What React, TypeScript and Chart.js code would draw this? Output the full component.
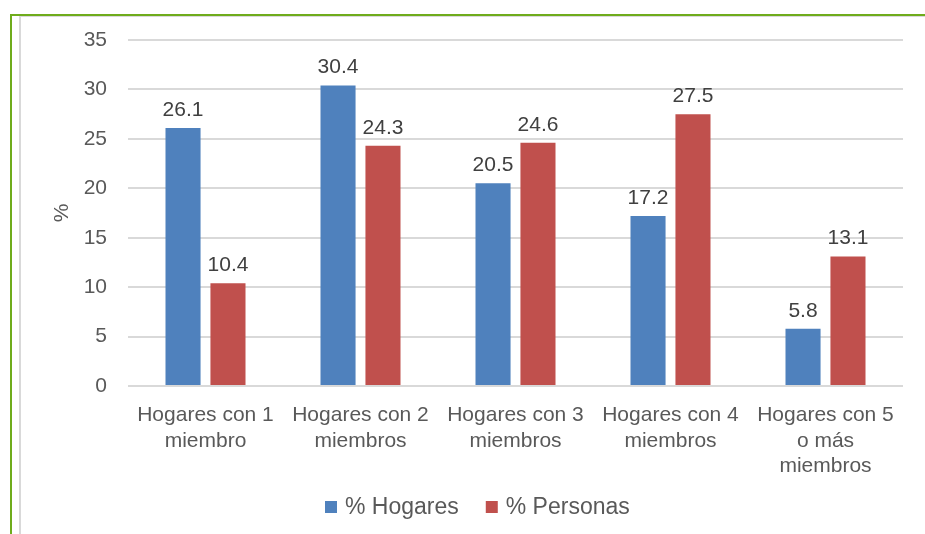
import React, { useEffect, useRef } from "react";
import { Chart, registerables } from "chart.js";

Chart.register(...registerables);

const categories: string[][] = [
  ["Hogares con 1", "miembro"],
  ["Hogares con 2", "miembros"],
  ["Hogares con 3", "miembros"],
  ["Hogares con 4", "miembros"],
  ["Hogares con 5", "o más", "miembros"],
];
const seriesNames = ["% Hogares", "% Personas"];
const hogares = [26.1, 30.4, 20.5, 17.2, 5.8];
const personas = [10.4, 24.3, 24.6, 27.5, 13.1];
const yTicksMin = 0;
const yTicksMax = 35;
const yTicksStep = 5;
const yTitle = "%";

const BLUE = "#4F81BD";
const RED = "#C0504D";
const FONT = "'Liberation Sans', Arial, sans-serif";

const dataLabelPlugin = {
  id: "dataLabels",
  afterDatasetsDraw(chart: any) {
    const ctx = chart.ctx;
    ctx.save();
    ctx.font = `21px ${FONT}`;
    ctx.fillStyle = "#404040";
    ctx.textAlign = "center";
    ctx.textBaseline = "alphabetic";
    chart.data.datasets.forEach((ds: any, i: number) => {
      const meta = chart.getDatasetMeta(i);
      meta.data.forEach((el: any, j: number) => {
        ctx.fillText(ds.data[j].toFixed(1), el.x, el.y - 12);
      });
    });
    ctx.restore();
  },
};

const legendPlugin = {
  id: "customLegend",
  afterDraw(chart: any) {
    const ctx = chart.ctx;
    ctx.save();
    ctx.font = `23px ${FONT}`;
    ctx.textBaseline = "middle";
    ctx.textAlign = "left";
    let x = 325;
    const cy = 507;
    chart.data.datasets.forEach((ds: any) => {
      ctx.fillStyle = ds.backgroundColor;
      ctx.fillRect(x, cy - 6, 12, 12);
      ctx.fillStyle = "#595959";
      ctx.fillText(ds.label, x + 20, cy + 1);
      x += 20 + ctx.measureText(ds.label).width + 27;
    });
    ctx.restore();
  },
};

export default function App() {
  const ref = useRef<HTMLCanvasElement>(null);
  useEffect(() => {
    if (!ref.current) return;
    const chart = new Chart(ref.current, {
      type: "bar",
      data: {
        labels: categories,
        datasets: [
          { label: seriesNames[0], data: hogares, backgroundColor: BLUE },
          { label: seriesNames[1], data: personas, backgroundColor: RED },
        ],
      },
      options: {
        animation: false,
        responsive: false,
        devicePixelRatio: 1,
        layout: { padding: { top: 40, right: 22, left: 0, bottom: 0 } },
        datasets: {
          bar: { categoryPercentage: 0.58, barPercentage: 0.78 },
        },
        plugins: {
          legend: { display: false },
          tooltip: { enabled: false },
        },
        scales: {
          x: {
            grid: { display: false },
            border: { display: false },
            ticks: {
              color: "#595959",
              font: { size: 21, family: FONT, lineHeight: 1.2 },
              maxRotation: 0,
              minRotation: 0,
              autoSkip: false,
              padding: 9,
            },
            afterFit(scale: any) {
              scale.height = 148;
            },
          },
          y: {
            min: yTicksMin,
            max: yTicksMax,
            grid: { color: "#d9d9d9", lineWidth: 2, drawTicks: false },
            border: { display: false },
            ticks: {
              stepSize: yTicksStep,
              color: "#595959",
              font: { size: 21, family: FONT },
              padding: 21,
            },
            title: {
              display: true,
              text: yTitle,
              color: "#595959",
              font: { size: 21, family: FONT },
              padding: { top: 50, bottom: 0 },
            },
            afterFit(scale: any) {
              scale.width = 128;
            },
          },
        },
      },
      plugins: [dataLabelPlugin, legendPlugin],
    });
    return () => chart.destroy();
  }, []);

  return (
    <div
      style={{
        position: "fixed",
        left: 0,
        top: 0,
        width: 925,
        height: 534,
        background: "#ffffff",
        overflow: "hidden",
      }}
    >
      <canvas ref={ref} width={925} height={534} style={{ position: "absolute", left: 0, top: 0 }} />
      <div style={{ position: "absolute", left: 10, top: 14, width: 915, height: 2, background: "#6fac1c" }} />
      <div style={{ position: "absolute", left: 10, top: 14, width: 2, height: 520, background: "#6fac1c" }} />
      <div style={{ position: "absolute", left: 20, top: 16, width: 905, height: 1, background: "#d9d9d9" }} />
      <div style={{ position: "absolute", left: 19, top: 16, width: 2, height: 518, background: "#d9d9d9" }} />
    </div>
  );
}
